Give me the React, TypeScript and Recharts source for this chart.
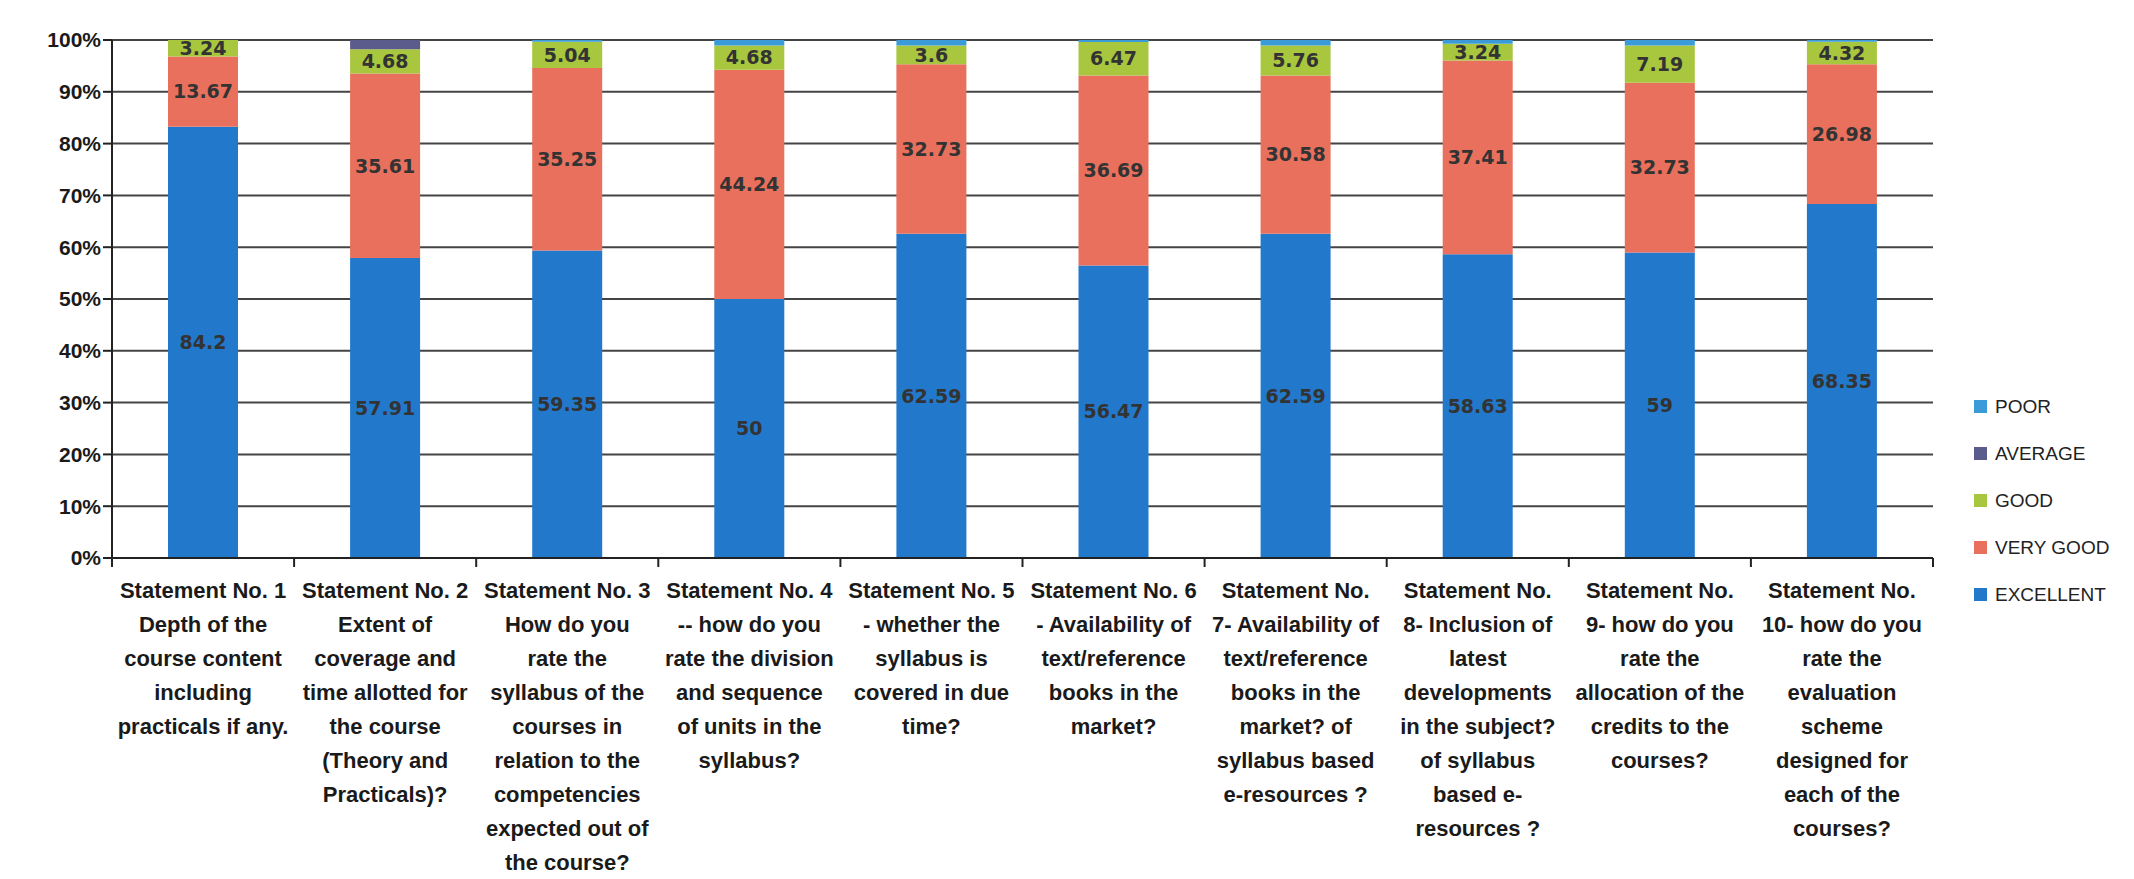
import { BarChart, Bar, XAxis, YAxis, CartesianGrid, LabelList } from "recharts";

// categories (x axis) and their wrapped label lines
const statements = ["S1", "S2", "S3", "S4", "S5", "S6", "S7", "S8", "S9", "S10"];
const statementLines = [
  ["Statement No. 1", "Depth of the", "course content", "including", "practicals if any."],
  ["Statement No. 2", "Extent of", "coverage and", "time allotted for", "the course", "(Theory and", "Practicals)?"],
  ["Statement No. 3", "How do you", "rate the", "syllabus of the", "courses in", "relation to the", "competencies", "expected out of", "the course?"],
  ["Statement No. 4", "-- how do you", "rate the division", "and sequence", "of units in the", "syllabus?"],
  ["Statement No. 5", "- whether the", "syllabus is", "covered in due", "time?"],
  ["Statement No. 6", "- Availability of", "text/reference", "books in the", "market?"],
  ["Statement No.", "7- Availability of", "text/reference", "books in the", "market?  of", "syllabus based", "e-resources ?"],
  ["Statement No.", "8- Inclusion of", "latest", "developments", "in the subject?", "of syllabus", "based e-", "resources ?"],
  ["Statement No.", "9- how do you", "rate the", "allocation of the", "credits to the", "courses?"],
  ["Statement No.", "10- how do you", "rate the", "evaluation", "scheme", "designed for", "each  of the", "courses?"],
];

// series values (%)
const excellent = [84.2, 57.91, 59.35, 50, 62.59, 56.47, 62.59, 58.63, 59, 68.35];
const veryGood = [13.67, 35.61, 35.25, 44.24, 32.73, 36.69, 30.58, 37.41, 32.73, 26.98];
const good = [3.24, 4.68, 5.04, 4.68, 3.6, 6.47, 5.76, 3.24, 7.19, 4.32];
const average = [0, 1.8, 0, 0, 0, 0, 0, 0, 0, 0];
const poor = [0, 0, 0.36, 1.08, 1.08, 0.37, 1.07, 0.72, 1.08, 0.35];

const yTicks = [0, 0.1, 0.2, 0.3, 0.4, 0.5, 0.6, 0.7, 0.8, 0.9, 1];

const COLORS = {
  excellent: "#2279cc",
  veryGood: "#e8705c",
  good: "#a8c63e",
  average: "#5c5c8c",
  poor: "#3b9bd8",
};

const legendItems = [
  { label: "POOR", color: COLORS.poor },
  { label: "AVERAGE", color: COLORS.average },
  { label: "GOOD", color: COLORS.good },
  { label: "VERY GOOD", color: COLORS.veryGood },
  { label: "EXCELLENT", color: COLORS.excellent },
];

const W = 2134;
const H = 879;
const M = { top: 40, right: 201, left: 20, bottom: 0 };
const Y_W = 92;
const PLOT_H = 518;
const STEP = (W - M.left - M.right - Y_W) / statements.length;

const data = statements.map((s, i) => ({
  name: s,
  excellent: excellent[i],
  veryGood: veryGood[i],
  good: good[i],
  average: average[i],
  poor: poor[i],
}));

const CatTick = (props: any) => {
  const { x, y, payload } = props;
  const lines = statementLines[payload.index] || [];
  return (
    <g>
      {payload.index === 0 && (
        <line x1={x - STEP / 2} x2={x - STEP / 2} y1={y} y2={y + 9} stroke="#222" strokeWidth={2} />
      )}
      <line x1={x + STEP / 2} x2={x + STEP / 2} y1={y} y2={y + 9} stroke="#222" strokeWidth={2} />
      <text
        x={x}
        y={y + 40}
        textAnchor="middle"
        fontFamily="'Liberation Sans', Arial, sans-serif"
        fontWeight="bold"
        fontSize={22}
        fill="#1a1a1a"
      >
        {lines.map((l, i) => (
          <tspan key={i} x={x} dy={i === 0 ? 0 : 34}>
            {l}
          </tspan>
        ))}
      </text>
    </g>
  );
};

const fmt = (v: any) => (v ? `${v}` : "");

const labelStyle = {
  fontFamily: "'DejaVu Sans', sans-serif",
  fontSize: 19,
  fontWeight: "bold" as const,
  fill: "#333",
};

export default function App() {
  return (
    <div style={{ position: "absolute", left: 0, top: 0, width: W, height: H, background: "#fff" }}>
      <BarChart width={W} height={H} data={data} margin={M} stackOffset="expand" barSize={70}>
        <CartesianGrid vertical={false} stroke="#444" strokeWidth={2} />
        <XAxis
          dataKey="name"
          interval={0}
          height={H - M.top - PLOT_H}
          tickLine={false}
          tickSize={0}
          tickMargin={0}
          axisLine={{ stroke: "#222", strokeWidth: 2 }}
          tick={<CatTick />}
        />
        <YAxis
          width={Y_W}
          domain={[0, 1]}
          ticks={yTicks}
          interval={0}
          tickFormatter={(v: number) => `${Math.round(v * 100)}%`}
          axisLine={{ stroke: "#222", strokeWidth: 2 }}
          tickLine={{ stroke: "#222", strokeWidth: 2 }}
          tickSize={9}
          tick={{
            fontFamily: "'Liberation Sans', Arial, sans-serif",
            fontWeight: "bold",
            fontSize: 21,
            fill: "#1a1a1a",
          }}
        />
        <Bar dataKey="excellent" stackId="a" fill={COLORS.excellent} isAnimationActive={false}>
          <LabelList dataKey="excellent" position="center" formatter={fmt} style={labelStyle} />
        </Bar>
        <Bar dataKey="veryGood" stackId="a" fill={COLORS.veryGood} isAnimationActive={false}>
          <LabelList dataKey="veryGood" position="center" formatter={fmt} style={labelStyle} />
        </Bar>
        <Bar dataKey="good" stackId="a" fill={COLORS.good} isAnimationActive={false}>
          <LabelList dataKey="good" position="center" formatter={fmt} style={labelStyle} />
        </Bar>
        <Bar dataKey="average" stackId="a" fill={COLORS.average} isAnimationActive={false} />
        <Bar dataKey="poor" stackId="a" fill={COLORS.poor} isAnimationActive={false} />
      </BarChart>
      <div
        style={{
          position: "absolute",
          left: 1974,
          top: 383,
          fontFamily: "'Liberation Sans', Arial, sans-serif",
          fontSize: 19,
          color: "#222",
        }}
      >
        {legendItems.map((it) => (
          <div key={it.label} style={{ display: "flex", alignItems: "center", height: 47 }}>
            <span style={{ width: 13, height: 13, background: it.color, display: "inline-block", marginRight: 8 }} />
            {it.label}
          </div>
        ))}
      </div>
    </div>
  );
}
